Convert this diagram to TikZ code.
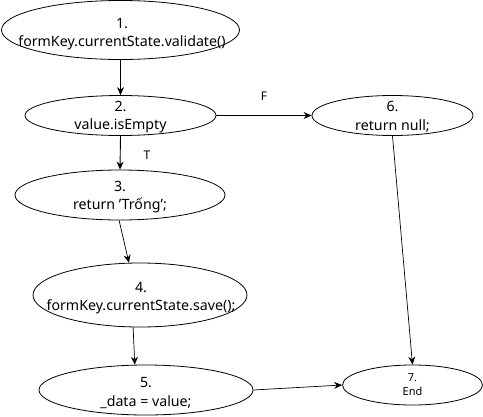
\documentclass[tikz,border=0pt]{standalone}
\usepackage{fontspec}
\setmainfont{Noto Sans}
\usetikzlibrary{shapes.geometric,arrows.meta}
\begin{document}
\begin{tikzpicture}[x=1pt,y=-1pt,
  ellip/.style={draw=black,ellipse,inner sep=0pt,line width=0.8pt},
  txt/.style={align=center,font=\fontsize{14.2}{18.5}\selectfont,inner sep=0pt},
  smalltxt/.style={align=center,font=\fontsize{11}{14}\selectfont,inner sep=0pt},
  conn/.style={draw=black,line width=0.9pt,-{Stealth[length=8pt,width=7pt]}},
  thinconn/.style={draw=black,line width=0.7pt,-{Stealth[length=8pt,width=7pt]}},
  lbl/.style={font=\fontsize{12}{14}\selectfont,inner sep=0pt}]
\useasboundingbox (0,0) rectangle (483,416);
\node[ellip,minimum width=238pt,minimum height=59pt] (n1) at (120.5,30) {};
\node[txt] (t1) at (122,34) {1.\\formKey.currentState.validate()};
\node[ellip,minimum width=191pt,minimum height=40pt] (n2) at (120.5,115.5) {};
\node[txt] (t2) at (120.5,117) {2.\\value.isEmpty};
\node[ellip,minimum width=161pt,minimum height=40pt] (n6) at (392.5,115.5) {};
\node[txt] (t6) at (392.5,117) {6.\\return null;};
\node[ellip,minimum width=210pt,minimum height=50pt] (n3) at (120,195) {};
\node[txt] (t3) at (120,197) {3.\\return 'Trống';};
\node[ellip,minimum width=214pt,minimum height=64pt] (n4) at (140,295) {};
\node[txt] (t4) at (141,298) {4.\\formKey.currentState.save();};
\node[ellip,minimum width=214pt,minimum height=50pt] (n5) at (146,390) {};
\node[txt] (t5) at (146,393) {5.\\\_data = value;};
\node[ellip,minimum width=140pt,minimum height=40pt] (n7) at (412.5,385) {};
\node[smalltxt] (t7) at (412.5,385) {7.\\End};
\draw[conn] (n1.south) -- (n2.north);
\draw[conn] (n2.south) -- (n3.north);
\draw[conn] (n2.east) -- (n6.west);
\draw[thinconn] (n3.-92) -- (n4.109);
\draw[thinconn] (n4.-102) -- (n5.114);
\draw[thinconn] (n6.south) -- (n7.north);
\draw[thinconn] (n5.east) -- (n7.west);
\node[lbl] (lf) at (264,96) {F};
\node[lbl] (lt) at (147,155) {T};
\end{tikzpicture}
\end{document}
